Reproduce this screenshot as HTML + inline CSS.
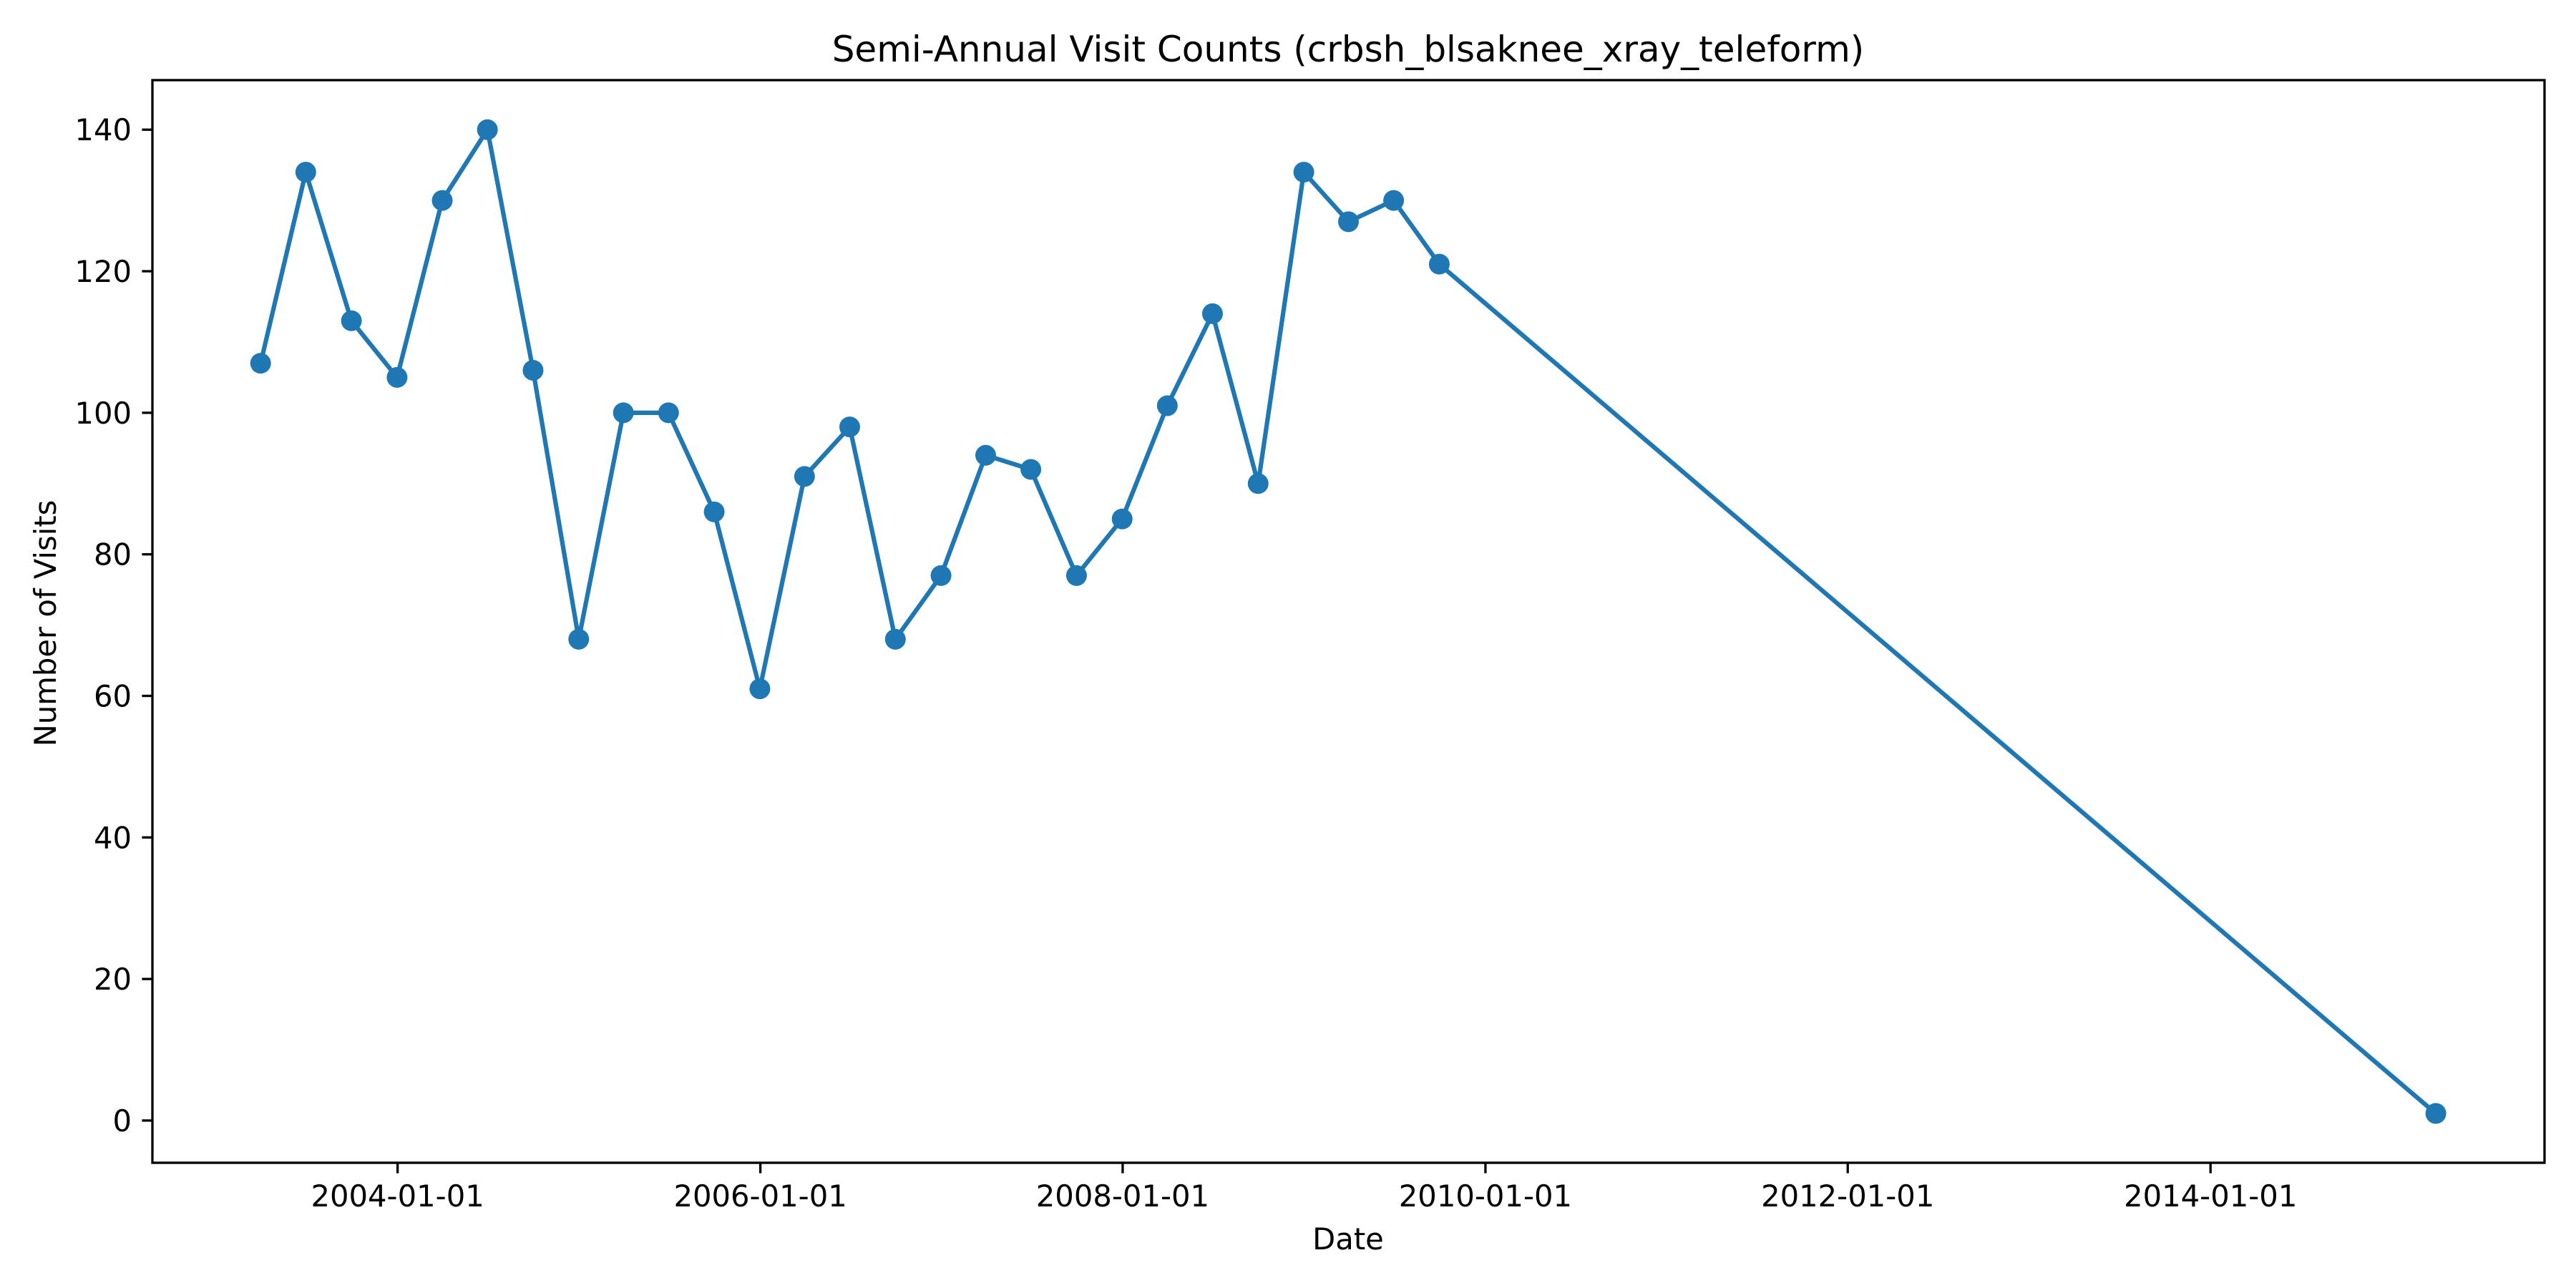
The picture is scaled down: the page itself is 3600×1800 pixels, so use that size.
<!DOCTYPE html>
<html><head><meta charset="utf-8"><style>
html,body{margin:0;padding:0;background:#fff;}
svg{display:block;font-family:"DejaVu Sans","Liberation Sans",sans-serif;}
</style></head><body>
<svg id="chart" width="3600" height="1800" viewBox="0 0 3600 1800" xmlns="http://www.w3.org/2000/svg">
<rect width="3600" height="1800" fill="#fff"/>
<text x="1884" y="86" font-size="50" text-anchor="middle">Semi-Annual Visit Counts (crbsh_blsaknee_xray_teleform)</text>
<text x="1884" y="1746" font-size="41.7" text-anchor="middle">Date</text>
<text x="0" y="0" font-size="41.7" text-anchor="middle" transform="translate(78,871) rotate(-90)">Number of Visits</text>
<g id="grid-layer"></g>
<g id="series-layer"></g>
<rect x="213" y="112" width="3343" height="1513" fill="none" stroke="#000" stroke-width="3.3"/>
</svg>
<script>
const dates = ["2003-03-31","2003-06-30","2003-09-30","2003-12-31","2004-03-31","2004-06-30","2004-09-30","2004-12-31","2005-03-31","2005-06-30","2005-09-30","2005-12-31","2006-03-31","2006-06-30","2006-09-30","2006-12-31","2007-03-31","2007-06-30","2007-09-30","2007-12-31","2008-03-31","2008-06-30","2008-09-30","2008-12-31","2009-03-31","2009-06-30","2009-09-30","2015-03-31"];
const visits = [107,134,113,105,130,140,106,68,100,100,86,61,91,98,68,77,94,92,77,85,101,114,90,134,127,130,121,1];
const xTicks = ["2004-01-01","2006-01-01","2008-01-01","2010-01-01","2012-01-01","2014-01-01"];
const yTicks = [0,20,40,60,80,100,120,140];

const NS = "http://www.w3.org/2000/svg";
const grid = document.getElementById('grid-layer');
const series = document.getElementById('series-layer');
const L = 213, R = 3556, T = 112, B = 1625;
const DAY = 86400000;
const t0 = Date.parse("2004-01-01");
const dMin = -494, dMax = 4326;
const yMin = -5.97, yMax = 147;
function xs(d){ const days = (Date.parse(d) - t0) / DAY; return L + (days - dMin) / (dMax - dMin) * (R - L); }
function ys(v){ return B - (v - yMin) / (yMax - yMin) * (B - T); }
function mk(tag, attrs){ const e = document.createElementNS(NS, tag); for (const k in attrs) e.setAttribute(k, attrs[k]); return e; }

xTicks.forEach(function(t){
  const x = xs(t);
  const tick = mk('line', {x1:x, x2:x, y1:B, y2:B+14.6, stroke:'#000', 'stroke-width':3.3});
  
  
  grid.appendChild(tick);
  const lab = mk('text', {x:x, y:B+61, 'font-size':41.7, 'text-anchor':'middle'});
  
  
  lab.textContent = t;
  grid.appendChild(lab);
});
yTicks.forEach(function(v){
  const y = ys(v);
  const tick = mk('line', {x1:L-14.6, x2:L, y1:y, y2:y, stroke:'#000', 'stroke-width':3.3});
  
  
  grid.appendChild(tick);
  const lab = mk('text', {x:L-29, y:y+15, 'font-size':41.7, 'text-anchor':'end'});
  
  
  lab.textContent = v;
  grid.appendChild(lab);
});

const pts = dates.map(function(d, i){ return xs(d).toFixed(1) + ',' + ys(visits[i]).toFixed(1); }).join(' ');
const line = mk('polyline', {points:pts, fill:'none', stroke:'#1f77b4', 'stroke-width':6.25, 'stroke-linejoin':'round', 'stroke-linecap':'square'});


series.appendChild(line);
dates.forEach(function(d, i){
  const c = mk('circle', {cx:xs(d), cy:ys(visits[i]), r:14.5, fill:'#1f77b4'});
  
  
  series.appendChild(c);
});
</script>
</body></html>
